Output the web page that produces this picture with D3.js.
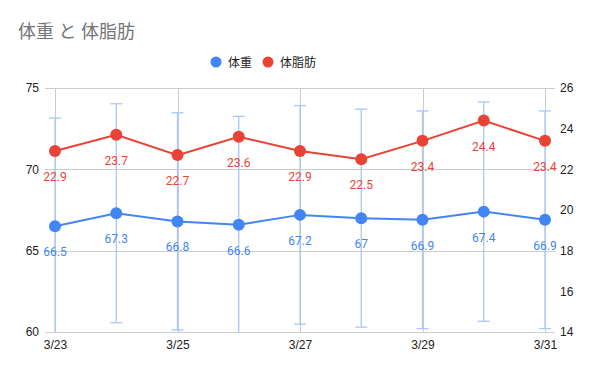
<!DOCTYPE html>
<html>
<head>
<meta charset="utf-8">
<script src="https://cdn.jsdelivr.net/npm/d3@7"></script>
<style>
	body { margin: 0; background: #fff; }
	svg text { font-family: Roboto, "Noto Sans CJK JP", sans-serif; }
</style>
</head>
<body>
<svg id="vis"></svg>
<script>
	// Data
	var dates = ["3/23", "3/24", "3/25", "3/26", "3/27", "3/28", "3/29", "3/30", "3/31"];
	var weight = [66.5, 67.3, 66.8, 66.6, 67.2, 67, 66.9, 67.4, 66.9];
	var bodyFat = [22.9, 23.7, 22.7, 23.6, 22.9, 22.5, 23.4, 24.4, 23.4];
	// error bar half-length for weight (+/-)
	var weightError = [6.65, 6.73, 6.68, 6.66, 6.72, 6.7, 6.69, 6.74, 6.69];
	var leftTicks = [60, 65, 70, 75];
	var rightTicks = [14, 16, 18, 20, 22, 24, 26];
	var xTickLabels = ["3/23", "3/25", "3/27", "3/29", "3/31"];

	var W = 600, H = 371;
	var blue = "#4285f4", red = "#ea4335";

	var svg = d3.select("svg#vis")
		.attr("width", W)
		.attr("height", H);

	svg.append("rect")
		.attr("width", W)
		.attr("height", H)
		.attr("fill", "#ffffff");

	// Scales
	var xScale = d3.scalePoint()
		.domain(dates)
		.range([55, 545]);

	var yLeft = d3.scaleLinear()
		.domain([60, 75])
		.range([332, 88]);

	var yRight = d3.scaleLinear()
		.domain([14, 26])
		.range([332, 88]);

	// Title
	svg.append("text")
		.text("体重 と 体脂肪")
		.attr("x", 18)
		.attr("y", 38)
		.attr("fill", "#757575")
		.style("font-size", "18px");

	// Legend
	var legend = svg.append("g").attr("class", "legend");
	var legendItems = [
		{name: "体重", color: blue, x: 216},
		{name: "体脂肪", color: red, x: 268}
	];
	legendItems.forEach(function(d) {
		legend.append("circle")
			.attr("cx", d.x)
			.attr("cy", 62)
			.attr("r", 5.5)
			.attr("fill", d.color);
		legend.append("text")
			.text(d.name)
			.attr("x", d.x + 12)
			.attr("y", 66.5)
			.attr("fill", "#222")
			.style("font-size", "12px");
	});

	// Horizontal gridlines
	svg.append("g").selectAll("line")
		.data(leftTicks)
		.enter().append("line")
		.attr("x1", 45)
		.attr("x2", 555)
		.attr("y1", function(d) {return Math.round(yLeft(d)) + 0.5})
		.attr("y2", function(d) {return Math.round(yLeft(d)) + 0.5})
		.attr("stroke", "#cccccc")
		.attr("stroke-width", 1);

	// Vertical gridlines at labelled dates
	svg.append("g").selectAll("line")
		.data(xTickLabels)
		.enter().append("line")
		.attr("x1", function(d) {return Math.round(xScale(d)) + 0.5})
		.attr("x2", function(d) {return Math.round(xScale(d)) + 0.5})
		.attr("y1", yLeft(75))
		.attr("y2", yLeft(60))
		.attr("stroke", "#cccccc")
		.attr("stroke-width", 1);

	// Left axis labels
	svg.append("g")
		.attr("transform", "translate(45,0)")
		.call(d3.axisLeft(yLeft).tickValues(leftTicks).tickSize(0).tickPadding(6))
		.call(function(g) {
			g.select(".domain").remove();
			g.selectAll("text")
				.attr("fill", "#222")
				.style("font-family", "Arial, 'Liberation Sans', sans-serif")
				.style("font-size", "12px");
		});

	// Right axis labels
	svg.append("g")
		.attr("transform", "translate(555,0)")
		.call(d3.axisRight(yRight).tickValues(rightTicks).tickSize(0).tickPadding(5))
		.call(function(g) {
			g.select(".domain").remove();
			g.selectAll("text")
				.attr("fill", "#222")
				.style("font-family", "Arial, 'Liberation Sans', sans-serif")
				.style("font-size", "12px");
		});

	// Bottom axis labels
	svg.append("g")
		.attr("transform", "translate(0,332)")
		.call(d3.axisBottom(xScale).tickValues(xTickLabels).tickSize(0).tickPadding(8))
		.call(function(g) {
			g.select(".domain").remove();
			g.selectAll("text")
				.attr("fill", "#222")
				.style("font-family", "Arial, 'Liberation Sans', sans-serif")
				.style("font-size", "12px");
		});

	// Clip to plot area for error bars
	svg.append("clipPath")
		.attr("id", "plotClip")
		.append("rect")
		.attr("x", 40)
		.attr("y", yLeft(75))
		.attr("width", 520)
		.attr("height", yLeft(60) - yLeft(75));

	var weightData = dates.map(function(d, i) {return {date: d, value: weight[i], err: weightError[i]}});
	var fatData = dates.map(function(d, i) {return {date: d, value: bodyFat[i]}});

	// Error bars for weight
	var errG = svg.append("g").attr("clip-path", "url(#plotClip)");
	var errColor = "#a8c7fa";
	var errBars = errG.selectAll("g.err").data(weightData).enter().append("g").attr("class", "err");
	errBars.append("line")
		.attr("x1", function(d) {return xScale(d.date)})
		.attr("x2", function(d) {return xScale(d.date)})
		.attr("y1", function(d) {return yLeft(d.value + d.err)})
		.attr("y2", function(d) {return yLeft(d.value - d.err)})
		.attr("stroke", errColor)
		.attr("stroke-width", 1.3);
	[1, -1].forEach(function(sign) {
		errBars.append("line")
			.attr("x1", function(d) {return xScale(d.date) - 6})
			.attr("x2", function(d) {return xScale(d.date) + 6})
			.attr("y1", function(d) {return yLeft(d.value + sign * d.err)})
			.attr("y2", function(d) {return yLeft(d.value + sign * d.err)})
			.attr("stroke", errColor)
			.attr("stroke-width", 1.3);
	});

	// Lines
	var weightLine = d3.line()
		.x(function(d) {return xScale(d.date)})
		.y(function(d) {return yLeft(d.value)});
	var fatLine = d3.line()
		.x(function(d) {return xScale(d.date)})
		.y(function(d) {return yRight(d.value)});

	svg.append("path")
		.datum(fatData)
		.attr("d", fatLine)
		.attr("fill", "none")
		.attr("stroke", red)
		.attr("stroke-width", 2);

	svg.append("path")
		.datum(weightData)
		.attr("d", weightLine)
		.attr("fill", "none")
		.attr("stroke", blue)
		.attr("stroke-width", 2);

	// Points
	svg.append("g").selectAll("circle")
		.data(fatData)
		.enter().append("circle")
		.attr("cx", function(d) {return xScale(d.date)})
		.attr("cy", function(d) {return yRight(d.value)})
		.attr("r", 6)
		.attr("fill", red);

	svg.append("g").selectAll("circle")
		.data(weightData)
		.enter().append("circle")
		.attr("cx", function(d) {return xScale(d.date)})
		.attr("cy", function(d) {return yLeft(d.value)})
		.attr("r", 6)
		.attr("fill", blue);

	// Data labels
	svg.append("g").selectAll("text")
		.data(fatData)
		.enter().append("text")
		.text(function(d) {return d.value})
		.attr("x", function(d) {return xScale(d.date)})
		.attr("y", function(d) {return yRight(d.value) + 30})
		.style("text-anchor", "middle")
		.style("font-size", "12px")
		.attr("fill", red);

	svg.append("g").selectAll("text")
		.data(weightData)
		.enter().append("text")
		.text(function(d) {return d.value})
		.attr("x", function(d) {return xScale(d.date)})
		.attr("y", function(d) {return yLeft(d.value) + 30})
		.style("text-anchor", "middle")
		.style("font-size", "12px")
		.attr("fill", blue);
</script>
</body>
</html>
